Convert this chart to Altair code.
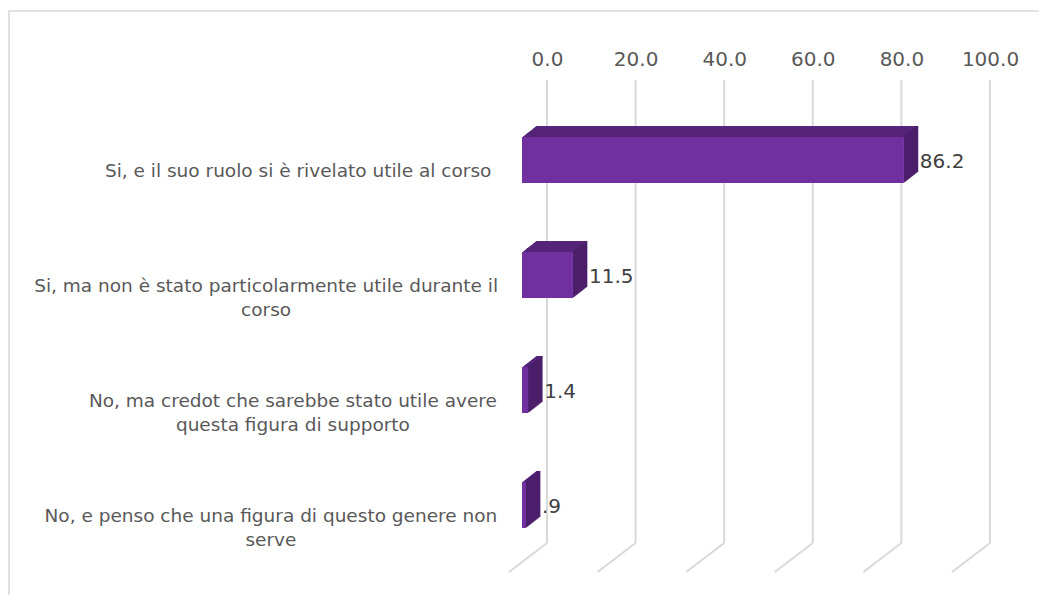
import altair as alt
import pandas as pd

# ---- data ----
category_lines = [
    ["Si, e il suo ruolo si è rivelato utile al corso"],
    ["Si, ma non è stato particolarmente utile durante il", "corso"],
    ["No, ma credot che sarebbe stato utile avere", "questa figura di supporto"],
    ["No, e penso che una figura di questo genere non", "serve"],
]
values = [86.2, 11.5, 1.4, 0.9]
tick_values = [0, 20, 40, 60, 80, 100]

keys = [" ".join(l) for l in category_lines]
df = pd.DataFrame({"key": keys, "lines": category_lines, "value": values})
ticks = pd.DataFrame({"tick": tick_values})
frame_df = pd.DataFrame({"a": [0]})

# ---- style ----
W, H = 443, 460
FRONT = "#7030a0"
TOP = "#56247a"
SIDE = "#4b1f6b"
GRID = "#d9d9d9"
FONT = "DejaVu Sans"
LABEL_FS = 18.5
DEPTH_STEPS = 14
DY = 11 / 14
SHIFT = 17.5  # bars sit a bit lower than band centre (3D floor)
HALF = 23

x_scale = alt.Scale(domain=[0, 100], nice=False, zero=True)
y_scale = alt.Scale(domain=keys, paddingInner=0, paddingOuter=0)
Y = alt.Y("key:N", scale=y_scale, axis=None, sort=keys)

layers = []

# frame
layers.append(
    alt.Chart(frame_df).mark_rect(fillOpacity=0, stroke=GRID, strokeWidth=1.5).encode(
        x=alt.value(-513), x2=alt.value(700), y=alt.value(-74), y2=alt.value(700)
    )
)

# back-wall gridlines with top axis
layers.append(
    alt.Chart(ticks).mark_rule(color=GRID, strokeWidth=2, xOffset=25).encode(
        x=alt.X(
            "tick:Q",
            scale=x_scale,
            axis=alt.Axis(
                orient="top", values=tick_values, format=".1f", domain=False,
                ticks=False, grid=False, labelOffset=25, labelPadding=16,
                labelFlush=False, labelOverlap=False, labelBound=False,
                labelFontSize=20, labelColor="#595959", labelFont=FONT, title=None,
            ),
        ),
        y=alt.value(-5),
        y2=alt.value(458),
    )
)
# floor gridlines
layers.append(
    alt.Chart(ticks).mark_rule(color=GRID, strokeWidth=2, xOffset=25, x2Offset=-13).encode(
        x=alt.X("tick:Q", scale=x_scale, axis=None),
        x2="tick:Q",
        y=alt.value(458),
        y2=alt.value(487),
    )
)

# top faces
for i in range(1, DEPTH_STEPS + 1):
    layers.append(
        alt.Chart(df).mark_bar(
            height=2, color=TOP, opacity=1, xOffset=i, x2Offset=i,
            yOffset=SHIFT - HALF - i * DY + 1,
        ).encode(x=alt.X("value:Q", scale=x_scale, axis=None), y=Y)
    )
# side faces
for i in range(1, DEPTH_STEPS + 1):
    layers.append(
        alt.Chart(df).mark_tick(
            orient="vertical", size=2 * HALF, thickness=1.8, color=SIDE, opacity=1,
            xOffset=i - 0.5, yOffset=SHIFT - i * DY,
        ).encode(x=alt.X("value:Q", scale=x_scale, axis=None), y=Y)
    )
# front faces
layers.append(
    alt.Chart(df).mark_bar(height=2 * HALF, color=FRONT, opacity=1, yOffset=SHIFT).encode(
        x=alt.X("value:Q", scale=x_scale, axis=None), y=Y
    )
)

# value labels
layers.append(
    alt.Chart(df)
    .transform_calculate(
        label="datum.value < 1 ? substring(format(datum.value, '.1f'), 1) : format(datum.value, '.1f')"
    )
    .mark_text(align="left", baseline="middle", dx=16, yOffset=SHIFT + 2,
               fontSize=20, color="#404040", font=FONT)
    .encode(x=alt.X("value:Q", scale=x_scale, axis=None), y=Y, text="label:N")
)

# category labels: centred block whose widest line ends near the plot
k = LABEL_FS / 18
width_expr = (
    "(length(datum.lines[0]) - datum.nn) * 11 + datum.nn * 5.7 + datum.nm * 6.5"
)
layers.append(
    alt.Chart(df)
    .transform_calculate(
        nn="length(datum.lines[0]) - length(replace(datum.lines[0], regexp('[iltrfj,. I]', 'g'), ''))",
        nm="length(datum.lines[0]) - length(replace(datum.lines[0], regexp('m', 'g'), ''))",
    )
    .transform_calculate(cx=f"-29 - ({width_expr}) * {k} / 2")
    .mark_text(align="center", baseline="middle", fontSize=LABEL_FS, lineHeight=24,
               color="#595959", font=FONT, yOffset=SHIFT + 11)
    .encode(x=alt.X("cx:Q", scale=None, axis=None), y=Y, text="lines")
)

chart = (
    alt.layer(*layers)
    .resolve_scale(x="independent")
    .properties(
        width=W, height=H,
        padding={"left": 514, "top": 77, "right": 74, "bottom": 50},
        autosize=alt.AutoSizeParams(type="none"),
    )
    .configure(font=FONT)
    .configure_view(strokeWidth=0, stroke="transparent")
)

chart.save("out.html", embed_options={"renderer": "svg", "actions": False})
